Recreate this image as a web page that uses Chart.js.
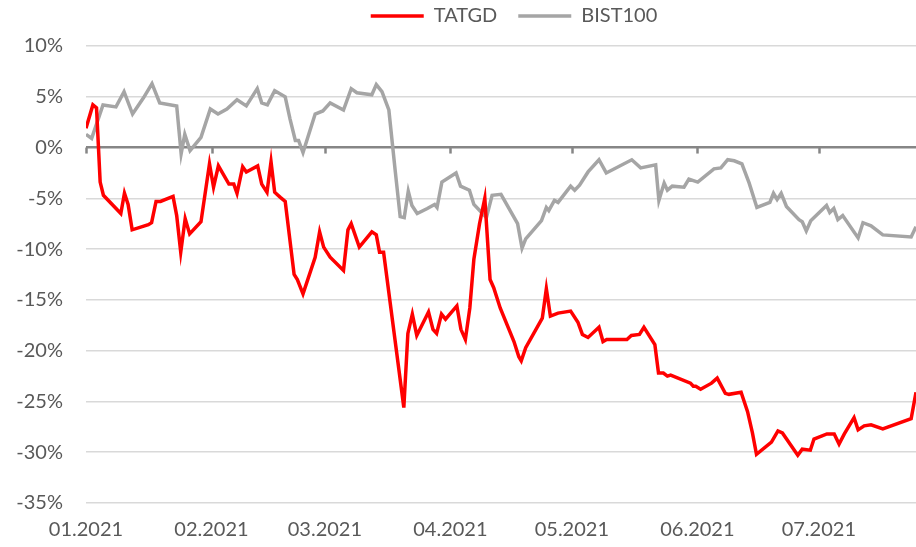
<!DOCTYPE html>
<html>
<head>
<meta charset="utf-8">
<script src="https://cdn.jsdelivr.net/npm/chart.js@4.4.1/dist/chart.umd.min.js"></script>
<style>
  html, body { margin: 0; padding: 0; background: #fff; }
  #wrap { width: 916px; height: 547px; }
</style>
</head>
<body>
<div id="wrap"><canvas id="chart"></canvas></div>
<script>
// x = days since 01.01.2021, y = % change
const tatgdDays = [0, 1.7, 2.6, 3.5, 4.3, 8.6, 9.5, 10.4, 11.4, 15.4, 16.2, 17.3, 18.4, 21.5, 22.4, 23.4, 24.5, 25.6,
  28.4, 30.5, 31.5, 32.7, 35.3, 36.5, 37.3, 38.7, 39.6, 42.4, 43.4, 44.7, 45.7, 46.6, 48.0, 49.2, 51.4, 52.2, 53.6,
  56.6, 57.7, 58.7, 60.3, 63.6, 64.7, 65.5, 67.5, 70.6, 71.7, 72.5, 73.5, 78.5, 79.5, 80.6, 81.7, 84.6, 85.7, 86.6,
  87.8, 88.8, 91.6, 92.6, 93.7, 94.8, 95.8, 97.2, 98.5, 99.8, 100.7, 102.3, 105.7, 106.9, 107.5, 108.6, 112.7, 113.7,
  114.7, 116.6, 119.7, 121.5, 122.6, 124.0, 126.7, 127.7, 128.6, 133.6, 134.7, 136.7, 137.8, 140.5, 141.4, 142.6,
  143.6, 144.4, 149.3, 150.0, 150.6, 151.8, 154.5, 155.9, 157.9, 158.8, 161.8, 163.4, 164.6, 165.6, 169.3, 170.9,
  172.0, 175.8, 176.9, 178.9, 179.8, 183.0, 184.8, 186.0, 187.3, 189.7, 190.7, 192.2, 193.9, 196.8, 203.8, 205];
const tatgdValues = [1.9, 4.2, 3.9, -3.4, -4.7, -6.5, -4.5, -5.6, -8.1, -7.6, -7.4, -5.3, -5.3, -4.8, -6.7, -10.3, -7.0, -8.5,
  -7.3, -1.6, -3.9, -1.8, -3.6, -3.6, -4.5, -1.9, -2.4, -1.8, -3.6, -4.4, -1.4, -4.4, -4.9, -5.3, -12.5, -13.0, -14.4,
  -10.8, -8.3, -9.8, -10.8, -12.1, -8.1, -7.5, -9.8, -8.3, -8.6, -10.3, -10.3, -25.6, -18.3, -16.4, -18.5, -16.2, -17.9, -18.3,
  -16.4, -16.9, -15.6, -17.9, -18.9, -15.8, -11.0, -7.5, -5.0, -13.0, -13.8, -15.8, -19.1, -20.6, -21.0, -19.7, -16.8, -13.9,
  -16.6, -16.3, -16.1, -17.2, -18.4, -18.7, -17.7, -19.1, -18.9, -18.9, -18.5, -18.4, -17.7, -19.4, -22.2, -22.2,
  -22.5, -22.4, -23.2, -23.5, -23.5, -23.8, -23.2, -22.7, -24.2, -24.3, -24.1, -26.0, -28.1, -30.2, -29.0, -27.9,
  -28.1, -30.3, -29.7, -29.8, -28.7, -28.2, -28.2, -29.2, -28.2, -26.6, -27.8, -27.4, -27.3, -27.7, -26.7, -24.1];

const bistDays = [0, 1.4, 4.2, 7.4, 9.4, 11.5, 14.2, 16.3, 18.2, 22.4, 23.5, 24.4, 25.7, 28.4, 30.7, 32.6, 34.8, 37.3,
  39.6, 42.3, 43.4, 44.8, 46.6, 49.2, 50.4, 51.7, 52.5, 53.6, 56.6, 58.5, 60.3, 63.6, 65.5, 66.9, 70.6, 71.7, 73.1,
  74.8, 76.4, 77.6, 78.6, 79.6, 80.5, 81.8, 84.3, 86.1, 86.7, 87.9, 91.4, 92.5, 94.7, 95.8, 97.7, 98.9, 100.3, 102.5,
  106.6, 107.7, 108.6, 112.5, 113.7, 114.3, 115.7, 116.6, 119.7, 120.7, 121.9, 124.0, 126.7, 128.5, 134.8, 137.0,
  140.7, 141.5, 142.8, 143.6, 144.8, 147.7, 148.9, 151.1, 155.1, 156.8, 158.5, 160.1, 162.0, 163.8, 165.7, 168.9,
  169.8, 170.7, 171.7, 173.0, 176.1, 176.9, 177.9, 179.0, 182.9, 183.7, 184.7, 185.7, 186.9, 190.7, 191.9, 193.9,
  196.8, 203.8, 205];
const bistValues = [1.3, 0.9, 4.2, 4.0, 5.5, 3.3, 4.9, 6.3, 4.4, 4.1, -0.6, 1.3, -0.3, 1.0, 3.8, 3.3, 3.8, 4.7,
  4.1, 5.8, 4.4, 4.2, 5.6, 5.0, 2.8, 0.7, 0.7, -0.5, 3.3, 3.6, 4.4, 3.7, 5.8, 5.4, 5.2, 6.2, 5.5,
  3.7, -2.4, -6.8, -6.9, -4.3, -5.7, -6.5, -6.0, -5.6, -5.9, -3.4, -2.5, -3.8, -4.2, -5.6, -6.4, -6.9, -4.7, -4.6,
  -7.5, -9.9, -9.0, -7.2, -5.9, -6.2, -5.2, -5.4, -3.8, -4.2, -3.7, -2.4, -1.2, -2.5, -1.2, -2.0,
  -1.7, -5.2, -3.5, -4.2, -3.8, -3.9, -3.1, -3.4, -2.1, -2.0, -1.2, -1.3, -1.6, -3.5, -5.9, -5.4,
  -4.5, -5.1, -4.5, -5.8, -7.1, -7.3, -8.2, -7.2, -5.7, -6.4, -6.0, -7.1, -6.7, -8.9, -7.4, -7.7,
  -8.6, -8.8, -7.8];

const monthDays = [0, 31, 59, 90, 120, 151, 181];
const monthLabels = ['01.2021', '02.2021', '03.2021', '04.2021', '05.2021', '06.2021', '07.2021'];

const toPoints = (days, values) => days.map((d, i) => ({ x: d, y: values[i] }));

const FONT = { family: 'Lato, "Open Sans", sans-serif', size: 20 };
const TEXT = '#595959';

// small tick marks hanging below the 0% line, like the category ticks in the original
const zeroTicks = {
  id: 'zeroTicks',
  beforeDatasetsDraw(chart) {
    const { ctx, scales: { x, y } } = chart;
    const y0 = y.getPixelForValue(0);
    ctx.save();
    ctx.strokeStyle = '#868686';
    ctx.lineWidth = 2.5;
    monthDays.forEach((d) => {
      const px = Math.round(x.getPixelForValue(d)) + 0.5;
      ctx.beginPath();
      ctx.moveTo(px, y0);
      ctx.lineTo(px, y0 + 6);
      ctx.stroke();
    });
    ctx.restore();
  },
};

// extra room under the legend, and legend centred a bit right of the canvas middle
const legendTweak = {
  id: 'legendTweak',
  beforeInit(chart) {
    const legend = chart.legend;
    const fit = legend.fit;
    legend.fit = function () {
      fit.call(this);
      this.height += 10;
    };
  },
  afterLayout(chart) {
    chart.legend.left += 56;
    chart.legend.right += 56;
  },
};

new Chart(document.getElementById('chart'), {
  type: 'line',
  data: {
    datasets: [
      {
        label: 'TATGD',
        data: toPoints(tatgdDays, tatgdValues),
        borderColor: '#ff0000',
        backgroundColor: '#ff0000',
        borderWidth: 3.5,
        pointRadius: 0,
        tension: 0,
      },
      {
        label: 'BIST100',
        data: toPoints(bistDays, bistValues),
        borderColor: '#a5a5a5',
        backgroundColor: '#a5a5a5',
        borderWidth: 3.5,
        pointRadius: 0,
        tension: 0,
      },
    ],
  },
  options: {
    responsive: true,
    maintainAspectRatio: false,
    animation: false,
    layout: { padding: { left: 0, right: 0, top: 0, bottom: -10 } },
    plugins: {
      tooltip: { enabled: false },
      legend: {
        position: 'top',
        labels: {
          usePointStyle: true,
          pointStyle: 'line',
          pointStyleWidth: 53,
          padding: 6,
          color: TEXT,
          font: FONT,
          // an em space after the first name widens the gap between the two items
          generateLabels: (chart) => Chart.defaults.plugins.legend.labels.generateLabels(chart)
            .map((item, i) => (i === 0 ? { ...item, text: item.text + '\u2003' } : item)),
        },
      },
    },
    scales: {
      x: {
        type: 'linear',
        min: 0,
        max: 205,
        afterBuildTicks: (scale) => {
          scale.ticks = monthDays.map((v) => ({ value: v }));
        },
        ticks: {
          autoSkip: false,
          maxRotation: 0,
          padding: 15,
          color: TEXT,
          font: FONT,
          callback: (value) => monthLabels[monthDays.indexOf(value)] ?? '',
        },
        grid: { display: false, drawTicks: false },
        border: { display: false },
      },
      y: {
        min: -35,
        max: 10,
        afterFit: (scale) => { scale.width = 86; },
        ticks: {
          stepSize: 5,
          padding: 23,
          color: TEXT,
          font: FONT,
          callback: (value) => `${value}%`,
        },
        grid: {
          drawTicks: false,
          color: (ctx) => (ctx.tick.value === 0 ? '#868686' : '#d9d9d9'),
          lineWidth: (ctx) => (ctx.tick.value === 0 ? 2.5 : 1.5),
        },
        border: { display: false },
      },
    },
  },
  plugins: [zeroTicks, legendTweak],
});
</script>
</body>
</html>
